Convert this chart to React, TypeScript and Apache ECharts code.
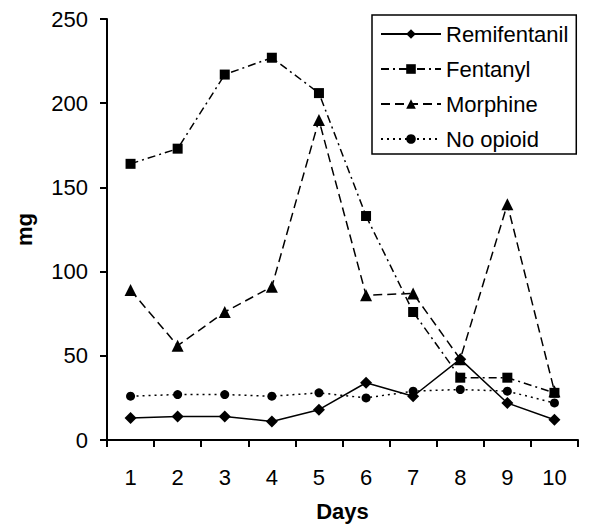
import React, { useEffect, useRef } from "react";
import * as echarts from "echarts";

const days = ["1", "2", "3", "4", "5", "6", "7", "8", "9", "10"];
const remifentanil = [13, 14, 14, 11, 18, 34, 26, 48, 22, 12];
const fentanyl = [164, 173, 217, 227, 206, 133, 76, 37, 37, 28];
const morphine = [89, 56, 76, 91, 190, 86, 87, 48, 140, 29];
const noOpioid = [26, 27, 27, 26, 28, 25, 29, 30, 29, 22];
const yTicks = { min: 0, max: 250, interval: 50 };

export default function App() {
  const ref = useRef<HTMLDivElement>(null);
  useEffect(() => {
    if (!ref.current) return;
    const chart = echarts.init(ref.current, null, { renderer: "svg" });
    const font = "'Liberation Sans', Arial, Helvetica, sans-serif";
    const mk = (name: string, data: number[], symbol: string, size: number, dash: any) => ({
      name,
      type: "line",
      data,
      symbol,
      symbolSize: size,
      showAllSymbol: true,
      itemStyle: { color: "#000" },
      lineStyle: { color: "#000", width: 1.5, type: dash },
      z: 3,
    });
    chart.setOption({
      animation: false,
      backgroundColor: "#fff",
      textStyle: { fontFamily: font },
      grid: { left: 107, right: 22, top: 19, bottom: 90 },
      legend: {
        left: 372,
        top: 15,
        orient: "vertical",
        padding: [8, 8, 4, 8],
        borderColor: "#000",
        borderWidth: 1.5,
        itemWidth: 60,
        itemHeight: 12,
        itemGap: 13,
        textStyle: { fontSize: 22, color: "#000", fontFamily: font },
        data: ["Remifentanil", "Fentanyl", "Morphine", "No opioid"],
      },
      xAxis: {
        type: "category",
        data: days,
        boundaryGap: true,
        name: "Days",
        nameLocation: "middle",
        nameGap: 60,
        nameTextStyle: { fontSize: 22, fontWeight: "bold", color: "#000", fontFamily: font },
        axisLine: { lineStyle: { color: "#000", width: 2 } },
        axisTick: { show: true, length: 7, inside: false, alignWithLabel: false, lineStyle: { color: "#000", width: 2 } },
        axisLabel: { fontSize: 22, color: "#000", margin: 26, fontFamily: font },
        splitLine: { show: false },
      },
      yAxis: {
        type: "value",
        min: yTicks.min,
        max: yTicks.max,
        interval: yTicks.interval,
        name: "mg",
        nameLocation: "middle",
        nameGap: 72,
        nameRotate: 90,
        nameTextStyle: { fontSize: 22, fontWeight: "bold", color: "#000", fontFamily: font },
        axisLine: { show: true, lineStyle: { color: "#000", width: 2 } },
        axisTick: { show: true, length: 7, lineStyle: { color: "#000", width: 2 } },
        axisLabel: { fontSize: 22, color: "#000", margin: 19, fontFamily: font },
        splitLine: { show: false },
      },
      series: [
        mk("Remifentanil", remifentanil, "diamond", 12, "solid"),
        mk("Fentanyl", fentanyl, "rect", 10, [8, 4, 2, 4]),
        mk("Morphine", morphine, "triangle", 12, [9, 5]),
        mk("No opioid", noOpioid, "circle", 9, [2, 4]),
      ],
    });
    return () => chart.dispose();
  }, []);
  return <div ref={ref} style={{ width: 600, height: 530, position: "absolute", left: 0, top: 0 }} />;
}
